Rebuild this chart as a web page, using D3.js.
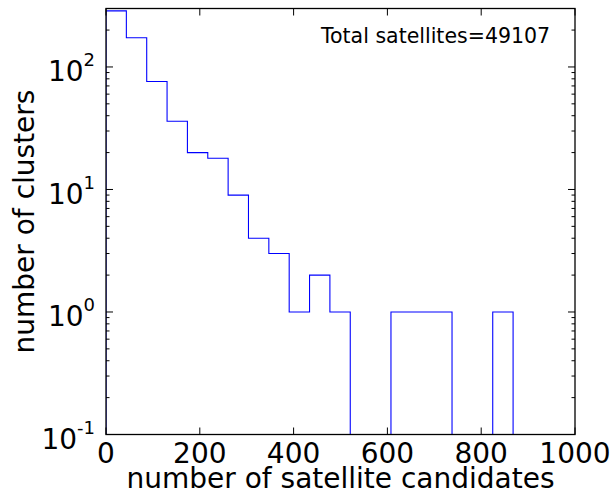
<!DOCTYPE html>
<html>
<head>
<meta charset="utf-8">
<script src="https://cdn.jsdelivr.net/npm/d3@7"></script>
<style>
  html, body { margin: 0; padding: 0; background: #fff; }
  svg text { font-family: "DejaVu Sans", sans-serif; fill: #000; }
</style>
</head>
<body>
<svg id="chart" width="615" height="496"></svg>
<script>
// ---- data ----
const binWidth = 43.4;
const binStarts = [0, 43.4, 86.8, 130.2, 173.6, 217, 260.4, 303.8, 347.2, 390.6,
                   434, 477.4, 520.8, 564.2, 607.6, 651, 694.4, 737.8, 781.2, 824.6];
const counts = [287, 173, 76, 36, 20, 18, 9, 4, 3, 1,
                2, 1, 0, 0, 1, 1, 1, 0, 0, 1];
const xTicks = [0, 200, 400, 600, 800, 1000];
const yTickExps = [-1, 0, 1, 2];
const annotation = "Total satellites=49107";
const xLabel = "number of satellite candidates";
const yLabel = "number of clusters";

// ---- layout ----
const svg = d3.select("#chart");
const L = 106, R = 575, T = 8.5, B = 434.5;
const x = d3.scaleLinear().domain([0, 1000]).range([L, R]);
const y = d3.scaleLog().domain([0.1, 300]).range([B, T]);

svg.append("defs").append("clipPath").attr("id", "clip")
  .append("rect").attr("x", L).attr("y", T).attr("width", R - L).attr("height", B - T);

// step path
const pts = [];
const yv = v => v > 0 ? y(v) : B + 5;
pts.push([x(binStarts[0]), B + 5]);
counts.forEach((c, i) => {
  pts.push([x(binStarts[i]), yv(c)]);
  pts.push([x(binStarts[i] + binWidth), yv(c)]);
});
pts.push([x(binStarts[binStarts.length - 1] + binWidth), B + 5]);
svg.append("path")
  .attr("clip-path", "url(#clip)")
  .attr("d", d3.line()(pts))
  .attr("fill", "none")
  .attr("stroke", "#0000ff")
  .attr("stroke-width", 1.1);

// frame
svg.append("rect").attr("x", L).attr("y", T).attr("width", R - L).attr("height", B - T)
  .attr("fill", "none").attr("stroke", "#000").attr("stroke-width", 1.3);

const major = 7, minor = 3.5;
// x ticks (bottom & top, inward)
const gx = svg.append("g");
xTicks.forEach(t => {
  gx.append("line").attr("x1", x(t)).attr("x2", x(t)).attr("y1", B).attr("y2", B - major)
    .attr("stroke", "#000").attr("stroke-width", 1);
  gx.append("line").attr("x1", x(t)).attr("x2", x(t)).attr("y1", T).attr("y2", T + major)
    .attr("stroke", "#000").attr("stroke-width", 1);
  gx.append("text").attr("x", x(t)).attr("y", 462.5).attr("text-anchor", "middle")
    .attr("font-size", 28).text(x.tickFormat(6, "d")(t));
});

// y ticks (log; major + minor, left & right inward)
const gy = svg.append("g");
y.ticks().forEach(v => {
  const e = Math.log10(v);
  const isMajor = Math.abs(e - Math.round(e)) < 1e-9;
  const len = isMajor ? major : minor;
  gy.append("line").attr("x1", L).attr("x2", L + len).attr("y1", y(v)).attr("y2", y(v))
    .attr("stroke", "#000").attr("stroke-width", 1);
  gy.append("line").attr("x1", R).attr("x2", R - len).attr("y1", y(v)).attr("y2", y(v))
    .attr("stroke", "#000").attr("stroke-width", 1);
});
yTickExps.forEach(e => {
  const t = gy.append("text").attr("x", 95).attr("y", y(Math.pow(10, e)) + 14.5)
    .attr("text-anchor", "end").attr("font-size", 28);
  t.append("tspan").text("10");
  t.append("tspan").attr("dy", -15).attr("font-size", 18).text(String(e));
});

// labels
svg.append("text").attr("x", (L + R) / 2).attr("y", 488).attr("text-anchor", "middle")
  .attr("font-size", 28).text(xLabel);
svg.append("text").attr("transform", `translate(34,${(T + B) / 2}) rotate(-90)`)
  .attr("text-anchor", "middle").attr("font-size", 28).text(yLabel);

svg.append("text").attr("x", 321).attr("y", 43.3).attr("font-size", 20.5).text(annotation);
</script>
</body>
</html>
